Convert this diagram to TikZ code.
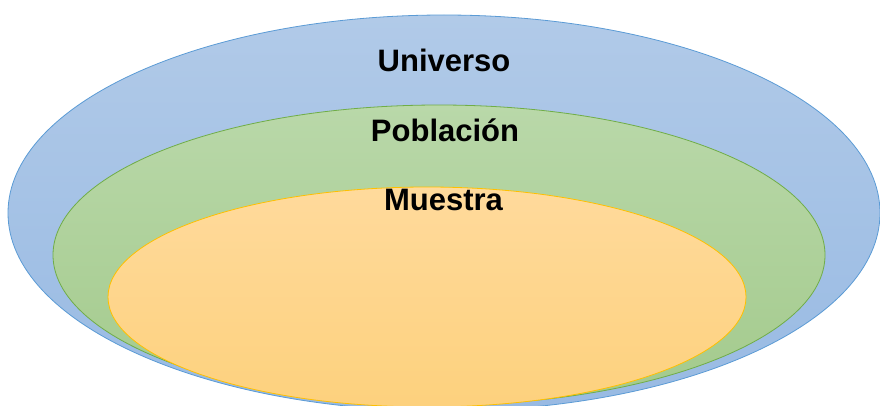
\documentclass[tikz,border=0pt]{standalone}
\usepackage{fontspec}
\setmainfont{Liberation Sans}
\definecolor{unitop}{HTML}{B1CAE8}
\definecolor{unibot}{HTML}{98BAE3}
\definecolor{uniline}{HTML}{5B9BD5}
\definecolor{pobtop}{HTML}{B9D8A9}
\definecolor{pobbot}{HTML}{A3CA8C}
\definecolor{pobline}{HTML}{70AD47}
\definecolor{mueatop}{HTML}{FFDA9C}
\definecolor{muebot}{HTML}{FDD17D}
\definecolor{mueline}{HTML}{FFC000}
\tikzset{label/.style={font=\fontsize{31}{37}\selectfont\bfseries, inner sep=0pt}}
\begin{document}
\begin{tikzpicture}[x=1pt,y=1pt]

\def\universo{(444,192) ellipse (436 and 198)}
\def\poblacion{(439,150) ellipse (386 and 150)}
\def\muestra{(427,108) ellipse (319 and 110)}

\useasboundingbox (0,0) rectangle (880,405);

\shade[top color=unitop, bottom color=unibot, draw=uniline, line width=0.8pt] \universo;
\shade[top color=pobtop, bottom color=pobbot, draw=pobline, line width=0.8pt] \poblacion;
\shade[top color=mueatop, bottom color=muebot, draw=mueline, line width=0.8pt] \muestra;

\node[label] (uni) at (444,345) {Universo};
\node[label] (pob) at (445,275) {Población};
\node[label] (mue) at (443.5,205) {Muestra};
\end{tikzpicture}
\end{document}
